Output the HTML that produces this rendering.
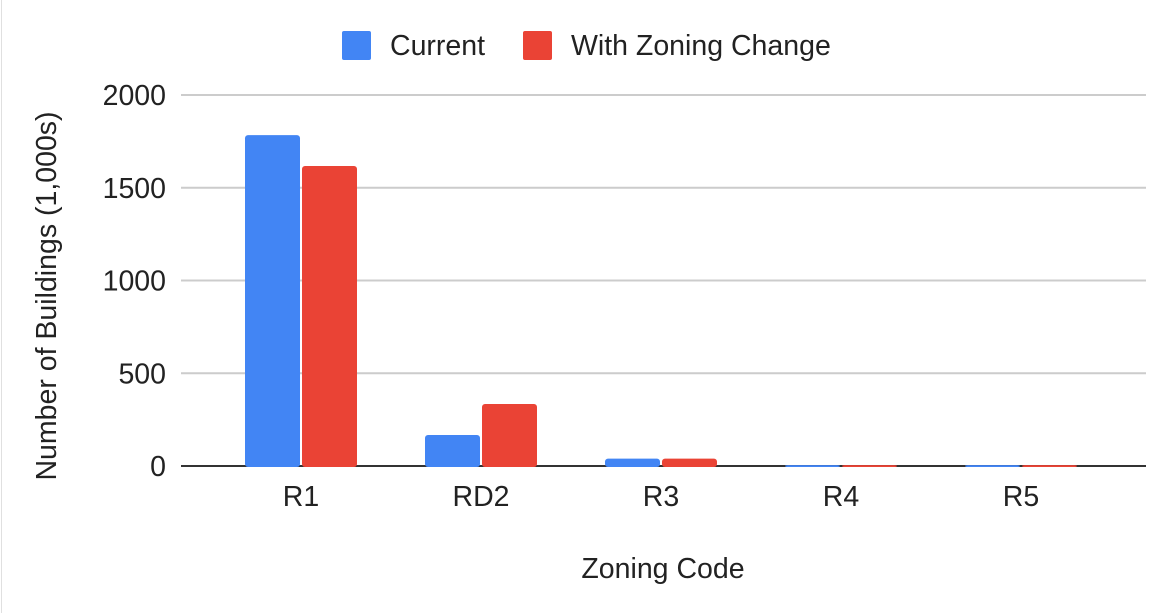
<!DOCTYPE html>
<html><head><meta charset="utf-8"><style>
html,body{margin:0;padding:0;background:#fff;}
svg{display:block;font-family:"Liberation Sans",Arial,sans-serif;}
</style></head><body>
<svg id="chart" width="1176" height="613">
<line x1="1.5" y1="0" x2="1.5" y2="613" stroke="#e0e0e0"/>
<g id="legend">
<g><rect x="342" y="31" width="29" height="29" rx="2" fill="#4285f4"/><text x="390" y="55" font-size="28.5" fill="#222">Current</text></g>
<g><rect x="523" y="31" width="29" height="29" rx="2" fill="#ea4335"/><text x="571" y="55" font-size="28.5" fill="#222">With Zoning Change</text></g>
</g>
<g id="grid"></g>
<g id="yticks"></g>
<g id="base"></g>
<g id="bars"></g>
<g id="xticks"></g>
<text x="663" y="578" font-size="28.5" text-anchor="middle" fill="#222">Zoning Code</text>
<text transform="translate(56,296) rotate(-90)" font-size="28.5" text-anchor="middle" fill="#222">Number of Buildings (1,000s)</text>
</svg>
<script>
const categories = ["R1","RD2","R3","R4","R5"];
const currentValues = [1784,167,40,5,5];
const zoningValues = [1617,334,40,5,5];
const yTicks = [0,500,1000,1500,2000];
const NS="http://www.w3.org/2000/svg";
const y0=466, y1=95, yMax=2000;
function y(v){return y0-(y0-y1)*v/yMax;}
function bandCenter(i){return 301+i*180;}
function mk(tag,attrs,parent,text){const e=document.createElementNS(NS,tag);for(const k in attrs)e.setAttribute(k,attrs[k]);if(text!==undefined)e.textContent=text;parent.appendChild(e);return e;}
const grid=document.getElementById('grid'),yt=document.getElementById('yticks'),bars=document.getElementById('bars'),xt=document.getElementById('xticks');
yTicks.forEach(t=>{
  if(t>0){const l=mk('line',{x1:181,x2:1146,y1:y(t),y2:y(t),stroke:'#cccccc','stroke-width':2},grid);
  
  }
  const tx=mk('text',{x:166,y:y(t)+10,'font-size':28.5,'text-anchor':'end',fill:'#222'},yt,String(t));
  
  
});
const base=mk('line',{x1:181,x2:1146,y1:y0,y2:y0,stroke:'#333','stroke-width':2},document.getElementById('base'));


categories.forEach((c,i)=>{
  const cx=bandCenter(i);
  const b1=mk('rect',{x:cx-56,y:y(currentValues[i]),width:55,height:y0+1-y(currentValues[i]),rx:3,fill:'#4285f4'},bars);
  
  
  const b2=mk('rect',{x:cx+1,y:y(zoningValues[i]),width:55,height:y0+1-y(zoningValues[i]),rx:3,fill:'#ea4335'},bars);
  
  
  const tx=mk('text',{x:cx,y:506,'font-size':28.5,'text-anchor':'middle',fill:'#222'},xt,c);
  
  
});
</script>
</body></html>
